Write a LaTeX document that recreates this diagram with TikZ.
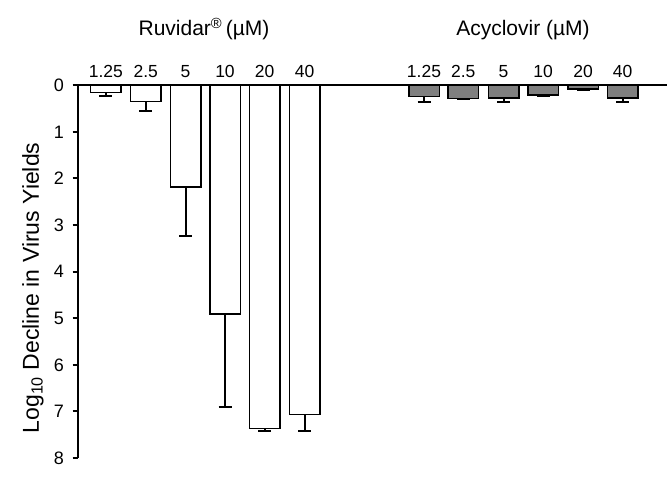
\documentclass[tikz,border=0pt]{standalone}
\usepackage{fontspec}
\setmainfont{Liberation Sans}
\usetikzlibrary{positioning}
\definecolor{barg}{HTML}{7F7F7F}

\begin{document}
\begin{tikzpicture}[x=1pt,y=-46.6pt,
  ruvbar/.style={draw,line width=1.5pt,fill=white},
  acybar/.style={draw,line width=1.5pt,fill=barg},
  errbar/.style={line width=2pt},
  axisline/.style={line width=2pt},
  dose/.style={anchor=base,inner sep=0pt,font=\fontsize{17.5}{20}\selectfont},
  ylab/.style={anchor=east,inner sep=0pt,font=\fontsize{18}{20}\selectfont},
  drug/.style={anchor=base,inner sep=0pt,font=\fontsize{21}{24}\selectfont}]
\useasboundingbox (0,-1.830) rectangle (667,8.491);
% Ruvidar bars
\draw[ruvbar] (90.5,0) rectangle (121,0.16);
\draw[ruvbar] (130.5,0) rectangle (161,0.35);
\draw[ruvbar] (170.3,0) rectangle (200.8,2.18);
\draw[ruvbar] (209.8,0) rectangle (240.3,4.91);
\draw[ruvbar] (249.5,0) rectangle (280,7.37);
\draw[ruvbar] (289.5,0) rectangle (320,7.06);
\draw[errbar] (105.8,0.16) -- (105.8,0.22) (99.3,0.22) -- (112.3,0.22);
\draw[errbar] (145.7,0.35) -- (145.7,0.55) (139.2,0.55) -- (152.2,0.55);
\draw[errbar] (185.5,2.18) -- (185.5,3.23) (179,3.23) -- (192,3.23);
\draw[errbar] (225,4.91) -- (225,6.90) (218.5,6.90) -- (231.5,6.90);
\draw[errbar] (264.7,7.37) -- (264.7,7.42) (258.2,7.42) -- (271.2,7.42);
\draw[errbar] (304.7,7.06) -- (304.7,7.41) (298.2,7.41) -- (311.2,7.41);
% Acyclovir bars
\draw[acybar] (408.8,0) rectangle (439.3,0.24);
\draw[acybar] (448,0) rectangle (478.5,0.28);
\draw[acybar] (488.3,0) rectangle (518.8,0.27);
\draw[acybar] (528,0) rectangle (558.5,0.21);
\draw[acybar] (568,0) rectangle (598.5,0.08);
\draw[acybar] (607.5,0) rectangle (638,0.27);
\draw[errbar] (424,0.24) -- (424,0.35) (417.5,0.35) -- (430.5,0.35);
\draw[errbar] (463.2,0.28) -- (463.2,0.30) (456.7,0.30) -- (469.7,0.30);
\draw[errbar] (503.5,0.27) -- (503.5,0.35) (497,0.35) -- (510,0.35);
\draw[errbar] (543.2,0.21) -- (543.2,0.22) (536.7,0.22) -- (549.7,0.22);
\draw[errbar] (583.2,0.08) -- (583.2,0.11) (576.7,0.11) -- (589.7,0.11);
\draw[errbar] (622.7,0.27) -- (622.7,0.35) (616.2,0.35) -- (629.2,0.35);
% axes
\draw[axisline] (72.7,0) -- (667,0);
\draw[axisline] (78,0) -- (78,8);
\draw[axisline] (72.7,1) -- (78,1);
\draw[axisline] (72.7,2) -- (78,2);
\draw[axisline] (72.7,3) -- (78,3);
\draw[axisline] (72.7,4) -- (78,4);
\draw[axisline] (72.7,5) -- (78,5);
\draw[axisline] (72.7,6) -- (78,6);
\draw[axisline] (72.7,7) -- (78,7);
\draw[axisline] (72.7,8) -- (78,8);
\node[ylab] (y0) at (64,0) {0};
\node[ylab] (y1) at (64,1) {1};
\node[ylab] (y2) at (64,2) {2};
\node[ylab] (y3) at (64,3) {3};
\node[ylab] (y4) at (64,4) {4};
\node[ylab] (y5) at (64,5) {5};
\node[ylab] (y6) at (64,6) {6};
\node[ylab] (y7) at (64,7) {7};
\node[ylab] (y8) at (64,8) {8};
\node[rotate=90,inner sep=0pt,font=\fontsize{23}{26}\selectfont] (ytitle) at (33,4.35) {Log\textsubscript{10} Decline in Virus Yields};
% doses
\node[dose] (r1) at (105.8,-0.17) {1.25};
\node[dose] (r2) at (145.7,-0.17) {2.5};
\node[dose] (r3) at (185.5,-0.17) {5};
\node[dose] (r4) at (225,-0.17) {10};
\node[dose] (r5) at (264.7,-0.17) {20};
\node[dose] (r6) at (304.7,-0.17) {40};
\node[dose] (a1) at (424,-0.17) {1.25};
\node[dose] (a2) at (463.2,-0.17) {2.5};
\node[dose] (a3) at (503.5,-0.17) {5};
\node[dose] (a4) at (543.2,-0.17) {10};
\node[dose] (a5) at (583.2,-0.17) {20};
\node[dose] (a6) at (622.7,-0.17) {40};
\node[drug] (ruv) at (204,-1.06) {Ruvidar\textsuperscript{\textregistered}\,(µM)};
\node[drug] (acy) at (523,-1.06) {Acyclovir (µM)};
\end{tikzpicture}
\end{document}
